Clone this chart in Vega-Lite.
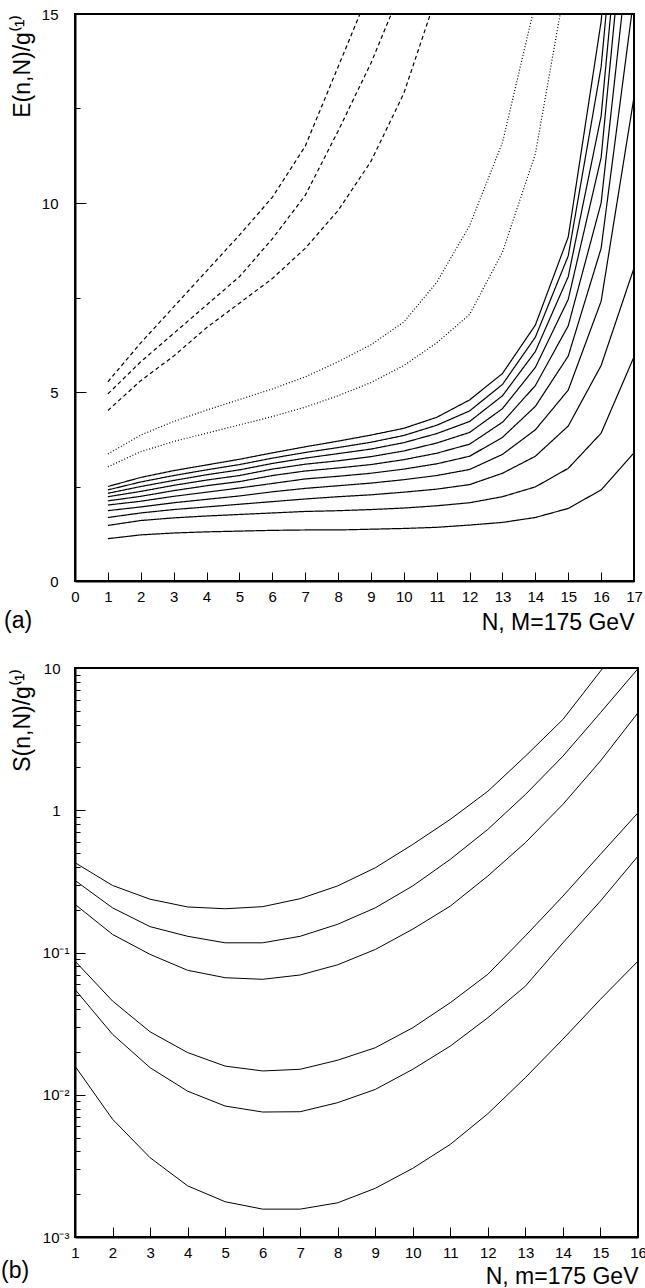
{
"$schema": "https://vega.github.io/schema/vega-lite/v6.json",
"padding": {"left": 0, "top": 6, "right": 0, "bottom": 0},
"config": {
  "font": "Liberation Sans",
  "view": {"stroke": "black", "strokeWidth": 2},
  "axis": {"domainColor": "black", "domainWidth": 2, "tickColor": "black", "tickWidth": 1, "labelColor": "black", "titleColor": "black", "grid": false, "labelFont": "Liberation Sans", "titleFont": "Liberation Sans", "labelFontSize": 15, "titleFontSize": 23, "titleFontWeight": "normal", "labelFlush": false, "labelOverlap": false},
  "title": {"fontSize": 23, "fontWeight": "normal", "font": "Liberation Sans", "color": "black"}
},
"spacing": 25,
"vconcat": [
{
  "width": 559, "height": 567,
  "title": {"text": "(a)", "orient": "bottom", "anchor": "start", "frame": "group", "dx": -71, "offset": -24, "baseline": "top"},
  "data": {"values": [
{"c":"L1","s":"solid","N":1,"E":1.12},{"c":"L1","s":"solid","N":2,"E":1.22},{"c":"L1","s":"solid","N":3,"E":1.27},{"c":"L1","s":"solid","N":4,"E":1.30},{"c":"L1","s":"solid","N":5,"E":1.32},{"c":"L1","s":"solid","N":6,"E":1.34},{"c":"L1","s":"solid","N":7,"E":1.35},{"c":"L1","s":"solid","N":8,"E":1.35},{"c":"L1","s":"solid","N":9,"E":1.37},{"c":"L1","s":"solid","N":10,"E":1.39},{"c":"L1","s":"solid","N":11,"E":1.42},{"c":"L1","s":"solid","N":12,"E":1.48},{"c":"L1","s":"solid","N":13,"E":1.55},{"c":"L1","s":"solid","N":14,"E":1.68},{"c":"L1","s":"solid","N":15,"E":1.92},{"c":"L1","s":"solid","N":16,"E":2.41},{"c":"L1","s":"solid","N":17,"E":3.39},
{"c":"L2","s":"solid","N":1,"E":1.47},{"c":"L2","s":"solid","N":2,"E":1.60},{"c":"L2","s":"solid","N":3,"E":1.67},{"c":"L2","s":"solid","N":4,"E":1.72},{"c":"L2","s":"solid","N":5,"E":1.76},{"c":"L2","s":"solid","N":6,"E":1.80},{"c":"L2","s":"solid","N":7,"E":1.84},{"c":"L2","s":"solid","N":8,"E":1.86},{"c":"L2","s":"solid","N":9,"E":1.89},{"c":"L2","s":"solid","N":10,"E":1.93},{"c":"L2","s":"solid","N":11,"E":1.99},{"c":"L2","s":"solid","N":12,"E":2.07},{"c":"L2","s":"solid","N":13,"E":2.23},{"c":"L2","s":"solid","N":14,"E":2.49},{"c":"L2","s":"solid","N":15,"E":2.98},{"c":"L2","s":"solid","N":16,"E":3.91},{"c":"L2","s":"solid","N":17,"E":5.93},
{"c":"L3","s":"solid","N":1,"E":1.68},{"c":"L3","s":"solid","N":2,"E":1.80},{"c":"L3","s":"solid","N":3,"E":1.89},{"c":"L3","s":"solid","N":4,"E":1.96},{"c":"L3","s":"solid","N":5,"E":2.03},{"c":"L3","s":"solid","N":6,"E":2.10},{"c":"L3","s":"solid","N":7,"E":2.17},{"c":"L3","s":"solid","N":8,"E":2.23},{"c":"L3","s":"solid","N":9,"E":2.28},{"c":"L3","s":"solid","N":10,"E":2.35},{"c":"L3","s":"solid","N":11,"E":2.43},{"c":"L3","s":"solid","N":12,"E":2.55},{"c":"L3","s":"solid","N":13,"E":2.85},{"c":"L3","s":"solid","N":14,"E":3.30},{"c":"L3","s":"solid","N":15,"E":4.10},{"c":"L3","s":"solid","N":16,"E":5.70},{"c":"L3","s":"solid","N":17,"E":8.28},
{"c":"L4","s":"solid","N":1,"E":1.86},{"c":"L4","s":"solid","N":2,"E":1.96},{"c":"L4","s":"solid","N":3,"E":2.07},{"c":"L4","s":"solid","N":4,"E":2.16},{"c":"L4","s":"solid","N":5,"E":2.25},{"c":"L4","s":"solid","N":6,"E":2.36},{"c":"L4","s":"solid","N":7,"E":2.45},{"c":"L4","s":"solid","N":8,"E":2.52},{"c":"L4","s":"solid","N":9,"E":2.59},{"c":"L4","s":"solid","N":10,"E":2.68},{"c":"L4","s":"solid","N":11,"E":2.79},{"c":"L4","s":"solid","N":12,"E":2.95},{"c":"L4","s":"solid","N":13,"E":3.35},{"c":"L4","s":"solid","N":14,"E":4.00},{"c":"L4","s":"solid","N":15,"E":5.05},{"c":"L4","s":"solid","N":16,"E":7.40},{"c":"L4","s":"solid","N":17,"E":12.8},
{"c":"L5","s":"solid","N":1,"E":2.01},{"c":"L5","s":"solid","N":2,"E":2.11},{"c":"L5","s":"solid","N":3,"E":2.24},{"c":"L5","s":"solid","N":4,"E":2.35},{"c":"L5","s":"solid","N":5,"E":2.46},{"c":"L5","s":"solid","N":6,"E":2.58},{"c":"L5","s":"solid","N":7,"E":2.70},{"c":"L5","s":"solid","N":8,"E":2.77},{"c":"L5","s":"solid","N":9,"E":2.85},{"c":"L5","s":"solid","N":10,"E":2.96},{"c":"L5","s":"solid","N":11,"E":3.10},{"c":"L5","s":"solid","N":12,"E":3.30},{"c":"L5","s":"solid","N":13,"E":3.80},{"c":"L5","s":"solid","N":14,"E":4.62},{"c":"L5","s":"solid","N":15,"E":5.95},{"c":"L5","s":"solid","N":16,"E":8.80},{"c":"L5","s":"solid","N":17,"E":15.47},
{"c":"L6","s":"solid","N":1,"E":2.12},{"c":"L6","s":"solid","N":2,"E":2.24},{"c":"L6","s":"solid","N":3,"E":2.39},{"c":"L6","s":"solid","N":4,"E":2.52},{"c":"L6","s":"solid","N":5,"E":2.63},{"c":"L6","s":"solid","N":6,"E":2.79},{"c":"L6","s":"solid","N":7,"E":2.91},{"c":"L6","s":"solid","N":8,"E":2.99},{"c":"L6","s":"solid","N":9,"E":3.08},{"c":"L6","s":"solid","N":10,"E":3.21},{"c":"L6","s":"solid","N":11,"E":3.38},{"c":"L6","s":"solid","N":12,"E":3.62},{"c":"L6","s":"solid","N":13,"E":4.20},{"c":"L6","s":"solid","N":14,"E":5.17},{"c":"L6","s":"solid","N":15,"E":6.75},{"c":"L6","s":"solid","N":16,"E":10.0},{"c":"L6","s":"solid","N":17,"E":17.9},
{"c":"L7","s":"solid","N":1,"E":2.23},{"c":"L7","s":"solid","N":2,"E":2.37},{"c":"L7","s":"solid","N":3,"E":2.53},{"c":"L7","s":"solid","N":4,"E":2.67},{"c":"L7","s":"solid","N":5,"E":2.79},{"c":"L7","s":"solid","N":6,"E":2.96},{"c":"L7","s":"solid","N":7,"E":3.09},{"c":"L7","s":"solid","N":8,"E":3.18},{"c":"L7","s":"solid","N":9,"E":3.29},{"c":"L7","s":"solid","N":10,"E":3.44},{"c":"L7","s":"solid","N":11,"E":3.65},{"c":"L7","s":"solid","N":12,"E":3.93},{"c":"L7","s":"solid","N":13,"E":4.56},{"c":"L7","s":"solid","N":14,"E":5.65},{"c":"L7","s":"solid","N":15,"E":7.45},{"c":"L7","s":"solid","N":16,"E":11.2},{"c":"L7","s":"solid","N":17,"E":20.2},
{"c":"L8","s":"solid","N":1,"E":2.32},{"c":"L8","s":"solid","N":2,"E":2.50},{"c":"L8","s":"solid","N":3,"E":2.66},{"c":"L8","s":"solid","N":4,"E":2.81},{"c":"L8","s":"solid","N":5,"E":2.94},{"c":"L8","s":"solid","N":6,"E":3.11},{"c":"L8","s":"solid","N":7,"E":3.25},{"c":"L8","s":"solid","N":8,"E":3.37},{"c":"L8","s":"solid","N":9,"E":3.49},{"c":"L8","s":"solid","N":10,"E":3.66},{"c":"L8","s":"solid","N":11,"E":3.90},{"c":"L8","s":"solid","N":12,"E":4.22},{"c":"L8","s":"solid","N":13,"E":4.90},{"c":"L8","s":"solid","N":14,"E":6.07},{"c":"L8","s":"solid","N":15,"E":8.05},{"c":"L8","s":"solid","N":16,"E":12.3},{"c":"L8","s":"solid","N":17,"E":21.6},
{"c":"L9","s":"solid","N":1,"E":2.41},{"c":"L9","s":"solid","N":2,"E":2.62},{"c":"L9","s":"solid","N":3,"E":2.79},{"c":"L9","s":"solid","N":4,"E":2.94},{"c":"L9","s":"solid","N":5,"E":3.08},{"c":"L9","s":"solid","N":6,"E":3.25},{"c":"L9","s":"solid","N":7,"E":3.40},{"c":"L9","s":"solid","N":8,"E":3.53},{"c":"L9","s":"solid","N":9,"E":3.67},{"c":"L9","s":"solid","N":10,"E":3.85},{"c":"L9","s":"solid","N":11,"E":4.12},{"c":"L9","s":"solid","N":12,"E":4.50},{"c":"L9","s":"solid","N":13,"E":5.20},{"c":"L9","s":"solid","N":14,"E":6.45},{"c":"L9","s":"solid","N":15,"E":8.60},{"c":"L9","s":"solid","N":16,"E":13.6},{"c":"L9","s":"solid","N":17,"E":22.9},
{"c":"L10","s":"solid","N":1,"E":2.50},{"c":"L10","s":"solid","N":2,"E":2.74},{"c":"L10","s":"solid","N":3,"E":2.92},{"c":"L10","s":"solid","N":4,"E":3.07},{"c":"L10","s":"solid","N":5,"E":3.22},{"c":"L10","s":"solid","N":6,"E":3.39},{"c":"L10","s":"solid","N":7,"E":3.55},{"c":"L10","s":"solid","N":8,"E":3.70},{"c":"L10","s":"solid","N":9,"E":3.86},{"c":"L10","s":"solid","N":10,"E":4.04},{"c":"L10","s":"solid","N":11,"E":4.33},{"c":"L10","s":"solid","N":12,"E":4.79},{"c":"L10","s":"solid","N":13,"E":5.49},{"c":"L10","s":"solid","N":14,"E":6.77},{"c":"L10","s":"solid","N":15,"E":9.10},{"c":"L10","s":"solid","N":16,"E":14.8},{"c":"L10","s":"solid","N":17,"E":24.8},
{"c":"D1","s":"dotted","N":1,"E":3.02},{"c":"D1","s":"dotted","N":2,"E":3.42},{"c":"D1","s":"dotted","N":3,"E":3.69},{"c":"D1","s":"dotted","N":4,"E":3.91},{"c":"D1","s":"dotted","N":5,"E":4.13},{"c":"D1","s":"dotted","N":6,"E":4.35},{"c":"D1","s":"dotted","N":7,"E":4.60},{"c":"D1","s":"dotted","N":8,"E":4.90},{"c":"D1","s":"dotted","N":9,"E":5.25},{"c":"D1","s":"dotted","N":10,"E":5.70},{"c":"D1","s":"dotted","N":11,"E":6.30},{"c":"D1","s":"dotted","N":12,"E":7.05},{"c":"D1","s":"dotted","N":13,"E":8.70},{"c":"D1","s":"dotted","N":14,"E":11.3},{"c":"D1","s":"dotted","N":15,"E":16.2},
{"c":"D2","s":"dotted","N":1,"E":3.36},{"c":"D2","s":"dotted","N":2,"E":3.86},{"c":"D2","s":"dotted","N":3,"E":4.22},{"c":"D2","s":"dotted","N":4,"E":4.52},{"c":"D2","s":"dotted","N":5,"E":4.80},{"c":"D2","s":"dotted","N":6,"E":5.08},{"c":"D2","s":"dotted","N":7,"E":5.40},{"c":"D2","s":"dotted","N":8,"E":5.80},{"c":"D2","s":"dotted","N":9,"E":6.25},{"c":"D2","s":"dotted","N":10,"E":6.85},{"c":"D2","s":"dotted","N":11,"E":7.90},{"c":"D2","s":"dotted","N":12,"E":9.40},{"c":"D2","s":"dotted","N":13,"E":11.6},{"c":"D2","s":"dotted","N":14,"E":15.3},{"c":"D2","s":"dotted","N":15,"E":20},
{"c":"H1","s":"dashed","N":1,"E":4.51},{"c":"H1","s":"dashed","N":2,"E":5.30},{"c":"H1","s":"dashed","N":3,"E":5.95},{"c":"H1","s":"dashed","N":4,"E":6.70},{"c":"H1","s":"dashed","N":5,"E":7.35},{"c":"H1","s":"dashed","N":6,"E":8.00},{"c":"H1","s":"dashed","N":7,"E":8.80},{"c":"H1","s":"dashed","N":8,"E":9.80},{"c":"H1","s":"dashed","N":9,"E":11.1},{"c":"H1","s":"dashed","N":10,"E":12.9},{"c":"H1","s":"dashed","N":11,"E":15.5},
{"c":"H2","s":"dashed","N":1,"E":4.95},{"c":"H2","s":"dashed","N":2,"E":5.80},{"c":"H2","s":"dashed","N":3,"E":6.55},{"c":"H2","s":"dashed","N":4,"E":7.30},{"c":"H2","s":"dashed","N":5,"E":8.05},{"c":"H2","s":"dashed","N":6,"E":9.05},{"c":"H2","s":"dashed","N":7,"E":10.2},{"c":"H2","s":"dashed","N":8,"E":11.9},{"c":"H2","s":"dashed","N":9,"E":13.7},{"c":"H2","s":"dashed","N":10,"E":15.8},
{"c":"H3","s":"dashed","N":1,"E":5.27},{"c":"H3","s":"dashed","N":2,"E":6.30},{"c":"H3","s":"dashed","N":3,"E":7.25},{"c":"H3","s":"dashed","N":4,"E":8.20},{"c":"H3","s":"dashed","N":5,"E":9.15},{"c":"H3","s":"dashed","N":6,"E":10.15},{"c":"H3","s":"dashed","N":7,"E":11.5},{"c":"H3","s":"dashed","N":8,"E":13.6},{"c":"H3","s":"dashed","N":9,"E":15.7}
  ]},
  "mark": {"type": "line", "clip": true, "color": "black", "strokeWidth": 1.2},
  "encoding": {
    "x": {"field": "N", "type": "quantitative", "scale": {"domain": [0, 17], "nice": false, "zero": false},
      "axis": {"values": [0,1,2,3,4,5,6,7,8,9,10,11,12,13,14,15,16,17], "tickSize": -9, "labelPadding": 17, "title": "N, M=175 GeV", "titleAnchor": "end", "titlePadding": 7}},
    "y": {"field": "E", "type": "quantitative", "scale": {"domain": [0, 15], "nice": false},
      "axis": {"values": [0,2.5,5,7.5,10,12.5,15], "labelExpr": "datum.value % 5 == 0 ? datum.label : ''", "tickSize": {"condition": {"test": "datum.value % 5 == 0", "value": -11}, "value": -5}, "labelPadding": 28, "title": "E(n,N)/g⁽¹⁾", "titleAnchor": "end", "titlePadding": 7}},
    "detail": {"field": "c", "type": "nominal"},
    "strokeDash": {"field": "s", "type": "nominal", "scale": {"domain": ["solid", "dotted", "dashed"], "range": [[1, 0], [1, 2], [4, 3]]}, "legend": null}
  }
},
{
  "width": 563, "height": 569,
  "title": {"text": "(b)", "orient": "bottom", "anchor": "start", "frame": "group", "dx": -74, "offset": -28, "baseline": "top"},
  "data": {"values": [
{"c":"A","N":1,"S":0.428},{"c":"A","N":2,"S":0.296},{"c":"A","N":3,"S":0.237},{"c":"A","N":4,"S":0.209},{"c":"A","N":5,"S":0.203},{"c":"A","N":6,"S":0.210},{"c":"A","N":7,"S":0.239},{"c":"A","N":8,"S":0.294},{"c":"A","N":9,"S":0.394},{"c":"A","N":10,"S":0.575},{"c":"A","N":11,"S":0.863},{"c":"A","N":12,"S":1.36},{"c":"A","N":13,"S":2.40},{"c":"A","N":14,"S":4.35},{"c":"A","N":15,"S":9.5},{"c":"A","N":16,"S":20},
{"c":"B","N":1,"S":0.321},{"c":"B","N":2,"S":0.206},{"c":"B","N":3,"S":0.152},{"c":"B","N":4,"S":0.130},{"c":"B","N":5,"S":0.117},{"c":"B","N":6,"S":0.117},{"c":"B","N":7,"S":0.130},{"c":"B","N":8,"S":0.158},{"c":"B","N":9,"S":0.206},{"c":"B","N":10,"S":0.294},{"c":"B","N":11,"S":0.452},{"c":"B","N":12,"S":0.734},{"c":"B","N":13,"S":1.29},{"c":"B","N":14,"S":2.40},{"c":"B","N":15,"S":4.85},{"c":"B","N":16,"S":9.9},
{"c":"C","N":1,"S":0.218},{"c":"C","N":2,"S":0.134},{"c":"C","N":3,"S":0.097},{"c":"C","N":4,"S":0.075},{"c":"C","N":5,"S":0.0665},{"c":"C","N":6,"S":0.0648},{"c":"C","N":7,"S":0.0695},{"c":"C","N":8,"S":0.082},{"c":"C","N":9,"S":0.105},{"c":"C","N":10,"S":0.146},{"c":"C","N":11,"S":0.212},{"c":"C","N":12,"S":0.345},{"c":"C","N":13,"S":0.592},{"c":"C","N":14,"S":1.10},{"c":"C","N":15,"S":2.22},{"c":"C","N":16,"S":4.85},
{"c":"D","N":1,"S":0.087},{"c":"D","N":2,"S":0.0456},{"c":"D","N":3,"S":0.0277},{"c":"D","N":4,"S":0.0198},{"c":"D","N":5,"S":0.0159},{"c":"D","N":6,"S":0.0147},{"c":"D","N":7,"S":0.0151},{"c":"D","N":8,"S":0.0175},{"c":"D","N":9,"S":0.0214},{"c":"D","N":10,"S":0.0296},{"c":"D","N":11,"S":0.0444},{"c":"D","N":12,"S":0.0703},{"c":"D","N":13,"S":0.131},{"c":"D","N":14,"S":0.249},{"c":"D","N":15,"S":0.49},{"c":"D","N":16,"S":0.96},
{"c":"E","N":1,"S":0.055},{"c":"E","N":2,"S":0.0266},{"c":"E","N":3,"S":0.0155},{"c":"E","N":4,"S":0.0106},{"c":"E","N":5,"S":0.00833},{"c":"E","N":6,"S":0.00756},{"c":"E","N":7,"S":0.0076},{"c":"E","N":8,"S":0.0088},{"c":"E","N":9,"S":0.0109},{"c":"E","N":10,"S":0.0151},{"c":"E","N":11,"S":0.022},{"c":"E","N":12,"S":0.0348},{"c":"E","N":13,"S":0.058},{"c":"E","N":14,"S":0.117},{"c":"E","N":15,"S":0.23},{"c":"E","N":16,"S":0.476},
{"c":"F","N":1,"S":0.0159},{"c":"F","N":2,"S":0.00673},{"c":"F","N":3,"S":0.00361},{"c":"F","N":4,"S":0.00229},{"c":"F","N":5,"S":0.00177},{"c":"F","N":6,"S":0.00157},{"c":"F","N":7,"S":0.00157},{"c":"F","N":8,"S":0.00174},{"c":"F","N":9,"S":0.0022},{"c":"F","N":10,"S":0.00304},{"c":"F","N":11,"S":0.00448},{"c":"F","N":12,"S":0.00736},{"c":"F","N":13,"S":0.0132},{"c":"F","N":14,"S":0.0246},{"c":"F","N":15,"S":0.0469},{"c":"F","N":16,"S":0.087}
  ]},
  "mark": {"type": "line", "clip": true, "color": "black", "strokeWidth": 1},
  "encoding": {
    "x": {"field": "N", "type": "quantitative", "scale": {"domain": [1, 16], "nice": false, "zero": false},
      "axis": {"values": [1,2,3,4,5,6,7,8,9,10,11,12,13,14,15,16], "tickSize": -10, "labelPadding": 18, "title": "N, m=175 GeV", "titleAnchor": "end", "titlePadding": 5}},
    "y": {"field": "S", "type": "quantitative", "scale": {"type": "log", "domain": [0.001, 10], "nice": false},
      "axis": {"values": [0.001,0.002,0.003,0.004,0.005,0.006,0.007,0.008,0.009,0.01,0.02,0.03,0.04,0.05,0.06,0.07,0.08,0.09,0.1,0.2,0.3,0.4,0.5,0.6,0.7,0.8,0.9,1,2,3,4,5,6,7,8,9,10],
        "labelExpr": "datum.value == 10 ? '10' : datum.value == 1 ? '1' : datum.value == 0.1 ? '10⁻¹' : datum.value == 0.01 ? '10⁻²' : datum.value == 0.001 ? '10⁻³' : ''",
        "tickSize": {"condition": {"test": "indexof([0.001,0.01,0.1,1,10], datum.value) >= 0", "value": -10}, "value": -5},
        "labelPadding": {"condition": {"test": "datum.value >= 1", "value": 25}, "value": 16},
        "title": "S(n,N)/g⁽¹⁾", "titleAnchor": "end", "titlePadding": 8}},
    "detail": {"field": "c", "type": "nominal"}
  }
}
]
}
